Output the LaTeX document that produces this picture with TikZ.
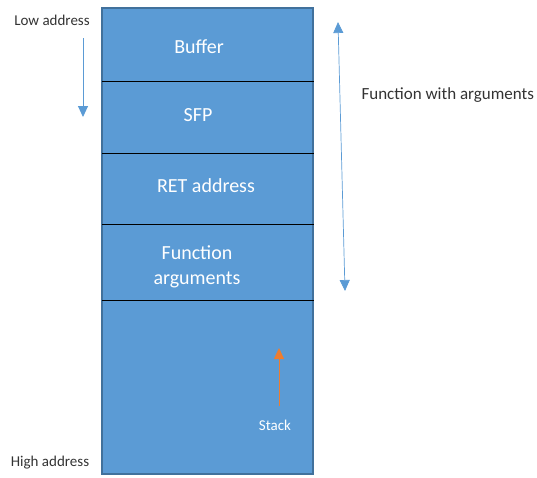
\documentclass[tikz,border=0pt]{standalone}
\usepackage{fontspec}
\setmainfont{Carlito}
\usepackage{tikz}
\usetikzlibrary{arrows.meta, calc}
\definecolor{cellblue}{HTML}{5B9BD5}
\definecolor{edgeblue}{HTML}{41719C}
\definecolor{arrowblue}{HTML}{5B9BD5}
\definecolor{stackorange}{HTML}{ED7D31}
\tikzset{
  celltext/.style={text=white, font=\fontsize{20}{25}\selectfont, align=center},
  sidetext/.style={text=black!80, font=\fontsize{15}{18}\selectfont},
  divider/.style={black, line width=0.8pt},
  bluearrow/.style={arrowblue, line width=0.9pt, -{Triangle[length=11pt, width=10pt]}},
}

\begin{document}
\begin{tikzpicture}[x=1pt, y=-1pt]
\useasboundingbox (0,0) rectangle (537,477);
% stack frame
\filldraw[fill=cellblue, draw=edgeblue, line width=1.5pt] (102,8) rectangle (313,474);
\foreach \y in {81,153,224,300} \draw[divider] (102,\y)--(314,\y);
\node[celltext] (buffer) at (199,47) {Buffer};
\node[celltext] (sfp) at (198,115) {SFP};
\node[celltext] (ret) at (206,186) {RET address};
\node[celltext] (args) at (197,267) {Function\\arguments};
\node[celltext, font=\fontsize{15}{18}\selectfont] (stack) at (275,425) {Stack};
% labels
\node[sidetext] (low) at (52,20) {Low address};
\node[sidetext] (high) at (50,463) {High address};
\node[sidetext, font=\fontsize{17}{20}\selectfont, anchor=west] (funcargs) at (358,95) {Function with arguments};
% arrows
\coordinate (lowtop) at (83,38);
\coordinate (lowtip) at (83,117);
\draw[bluearrow] (lowtop)--(lowtip);
\coordinate (fa top) at (338,22);
\coordinate (fa bot) at (345,291);
\draw[bluearrow, {Triangle[length=11pt, width=10pt]}-{Triangle[length=11pt, width=10pt]}, line width=0.7pt] (fa top)--(fa bot);
\coordinate (growbase) at ($(stack.north)+(4,-10)$);
\coordinate (growtip) at (279,348);
\draw[stackorange, line width=0.8pt, -{Triangle[length=11pt, width=10pt]}] (growbase)--(growtip);
\end{tikzpicture}
\end{document}
